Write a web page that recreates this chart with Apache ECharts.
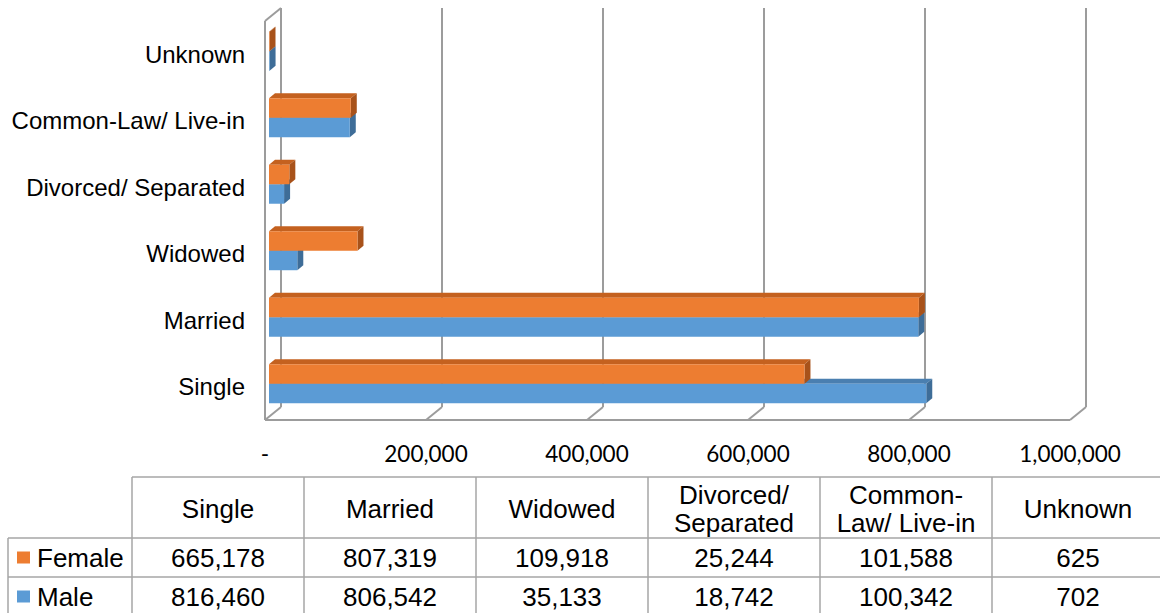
<!DOCTYPE html>
<html><head><meta charset="utf-8">
<script src="https://cdn.jsdelivr.net/npm/echarts@6/dist/echarts.min.js"></script>
<style>html,body{margin:0;padding:0;background:#fff;}#c{width:1160px;height:613px;}</style>
</head><body><div id="c"></div>
<script>
// ---- data ----
const categories = ['Single', 'Married', 'Widowed', 'Divorced/ Separated', 'Common-Law/ Live-in', 'Unknown'];
const tableHeaders = ['Single', 'Married', 'Widowed', 'Divorced/\nSeparated', 'Common-\nLaw/ Live-in', 'Unknown'];
const seriesNames = ['Female', 'Male'];
const femaleValues = [665178, 807319, 109918, 25244, 101588, 625];
const maleValues = [816460, 806542, 35133, 18742, 100342, 702];
const tickValues = [0, 200000, 400000, 600000, 800000, 1000000];

// ---- geometry / style ----
const BACK = {left: 281, top: 8, width: 805, height: 399};
const DX = -16, DY = 13;      // front of floor relative to back wall
const BFX = -12, BFY = 10;    // bar front face relative to back wall
const BDX = 6, BDY = -5;      // bar depth
const BAR_H = 0.293;          // bar thickness as fraction of band
const GRID_COLOR = '#9C9C9C';
const COLORS = {
  Female: {front: '#ED7D31', top: '#C4611F', side: '#A8521A'},
  Male: {front: '#5B9BD5', top: '#4A7FB0', side: '#3E6D98'}
};
const fmt = v => v.toLocaleString('en-US');

const chart = echarts.init(document.getElementById('c'), null, {renderer: 'svg'});

function barRender(sIdx) {
  return function (params, api) {
    const cat = api.value(0), val = api.value(1);
    const p0 = api.coord([0, cat]);
    const p1 = api.coord([val, cat]);
    const band = api.size([0, 1])[1];
    const h = band * BAR_H;
    const cy = p0[1] + BFY;
    const yTop = sIdx === 0 ? cy - h : cy;
    const yBot = yTop + h;
    const x0 = p0[0] + BFX, x1 = p1[0] + BFX;
    const c = COLORS[seriesNames[sIdx]];
    return {type: 'group', children: [
      {type: 'polygon', shape: {points: [[x0, yTop], [x1, yTop], [x1 + BDX, yTop + BDY], [x0 + BDX, yTop + BDY]]}, style: {fill: c.top}},
      {type: 'polygon', shape: {points: [[x1, yTop], [x1 + BDX, yTop + BDY], [x1 + BDX, yBot + BDY], [x1, yBot]]}, style: {fill: c.side}},
      {type: 'rect', shape: {x: x0, y: yTop, width: Math.max(x1 - x0, 0), height: h}, style: {fill: c.front}}
    ]};
  };
}

function frameRender(params, api) {
  const v = api.value(0);
  const cs = params.coordSys;
  const x = api.coord([v, 0])[0];
  const yb = cs.y + cs.height, yt = cs.y;
  const st = {stroke: GRID_COLOR, lineWidth: 2, fill: null};
  const children = [{type: 'line', shape: {x1: x, y1: yb, x2: x + DX, y2: yb + DY}, style: st}];
  if (params.dataIndex === 0) {
    const xEnd = api.coord([tickValues[tickValues.length - 1], 0])[0];
    children.push({type: 'line', shape: {x1: x + DX, y1: yt + DY, x2: x + DX, y2: yb + DY}, style: st});
    children.push({type: 'line', shape: {x1: x, y1: yt, x2: x + DX, y2: yt + DY}, style: st});
    children.push({type: 'line', shape: {x1: x + DX, y1: yb + DY, x2: xEnd + DX, y2: yb + DY}, style: st});
  }
  return {type: 'group', children};
}

// ---- data table (graphic) ----
const T = {left: 8, colStart: 132, colW: 172, headTop: 477, headH: 61, rowH: 39};
const TFONT = '"Liberation Sans", Arial, sans-serif';
const TSIZE = 26;
const graphics = [];
function ln(x1, y1, x2, y2) {
  graphics.push({type: 'line', shape: {x1, y1, x2, y2}, style: {stroke: '#A6A6A6', lineWidth: 1.5}, z: 10});
}
function txt(text, x, y, align) {
  graphics.push({type: 'text', x, y, z: 11, style: {
    text, fill: '#000', fontSize: TSIZE, fontFamily: TFONT, lineHeight: 28,
    align, textAlign: align, verticalAlign: 'middle', textVerticalAlign: 'middle'
  }});
}
const nCols = categories.length;
const tRight = T.colStart + nCols * T.colW;
const rowsTop = T.headTop + T.headH;
const tBottom = rowsTop + 2 * T.rowH;
ln(T.colStart, T.headTop, tRight, T.headTop);
ln(T.left, rowsTop, tRight, rowsTop);
ln(T.left, rowsTop + T.rowH, tRight, rowsTop + T.rowH);
ln(T.left, tBottom, tRight, tBottom);
ln(T.left, rowsTop, T.left, tBottom);
for (let i = 0; i <= nCols; i++) ln(T.colStart + i * T.colW, T.headTop, T.colStart + i * T.colW, tBottom);
tableHeaders.forEach((h, i) => txt(h, T.colStart + i * T.colW + T.colW / 2, T.headTop + T.headH / 2 + 1, 'center'));
[femaleValues, maleValues].forEach((vals, r) => {
  const cy = rowsTop + r * T.rowH + T.rowH / 2;
  graphics.push({type: 'rect', z: 11, shape: {x: 17, y: cy - 6, width: 13, height: 12}, style: {fill: COLORS[seriesNames[r]].front}});
  txt(seriesNames[r], 37, cy, 'left');
  vals.forEach((v, i) => txt(fmt(v), T.colStart + i * T.colW + T.colW / 2, cy, 'center'));
});

const hiddenAxis = {axisLine: {show: false}, axisTick: {show: false}};

chart.setOption({
  animation: false,
  backgroundColor: '#fff',
  grid: [
    {left: BACK.left, top: BACK.top, width: BACK.width, height: BACK.height, outerBoundsMode: 'none', containLabel: false},
    {left: BACK.left + DX, top: BACK.top + DY, width: BACK.width, height: BACK.height, outerBoundsMode: 'none', containLabel: false}
  ],
  xAxis: [
    Object.assign({gridIndex: 0, type: 'value', min: 0, max: 1000000, interval: 200000,
      axisLabel: {show: false},
      splitLine: {show: true, showMinLine: true, showMaxLine: true, lineStyle: {color: GRID_COLOR, width: 2}}}, hiddenAxis),
    Object.assign({gridIndex: 1, type: 'value', min: 0, max: 1000000, interval: 200000,
      splitLine: {show: false},
      axisLabel: {margin: 22, fontSize: 22.5, fontFamily: 'Lato, "Liberation Sans", sans-serif', color: '#000',
        showMinLabel: true, showMaxLabel: true,
        formatter: v => v === 0 ? '-' : fmt(v)}}, hiddenAxis)
  ],
  yAxis: [
    Object.assign({gridIndex: 0, type: 'category', data: categories, axisLabel: {show: false}, splitLine: {show: false}}, hiddenAxis),
    Object.assign({gridIndex: 1, type: 'category', data: categories, splitLine: {show: false},
      axisLabel: {margin: 20, fontSize: 24, fontFamily: '"Liberation Sans", Arial, sans-serif', color: '#000'}}, hiddenAxis)
  ],
  series: [
    {type: 'custom', name: 'frame', xAxisIndex: 0, yAxisIndex: 0, z: 1, silent: true,
      renderItem: frameRender, data: tickValues.map(v => [v, 0])},
    {type: 'custom', name: seriesNames[1], xAxisIndex: 0, yAxisIndex: 0, z: 3,
      renderItem: barRender(1), encode: {x: 1, y: 0}, data: maleValues.map((v, i) => [i, v])},
    {type: 'custom', name: seriesNames[0], xAxisIndex: 0, yAxisIndex: 0, z: 4,
      renderItem: barRender(0), encode: {x: 1, y: 0}, data: femaleValues.map((v, i) => [i, v])}
  ],
  graphic: graphics
});
</script>
</body></html>
